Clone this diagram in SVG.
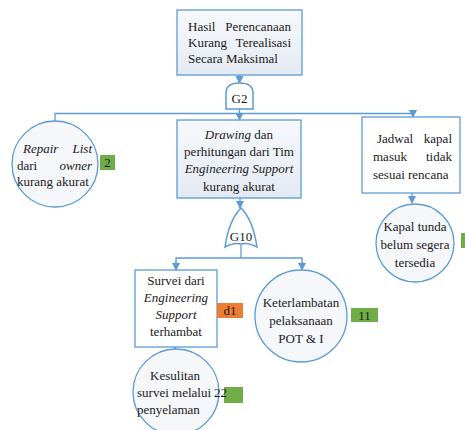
<svg xmlns="http://www.w3.org/2000/svg" width="465" height="430" viewBox="0 0 465 430">
<defs>
<linearGradient id="bg" x1="0" y1="0" x2="0" y2="1">
<stop offset="0" stop-color="#f7f9fc"/>
<stop offset="1" stop-color="#e4eaf3"/>
</linearGradient>
<marker id="ar" viewBox="0 0 8 8" refX="7" refY="4" markerWidth="8" markerHeight="8" markerUnits="userSpaceOnUse" orient="auto">
<path d="M0,0 L8,4 L0,8 Z" fill="#5b9bd5"/>
</marker>
<style>
.ln{fill:none;stroke:#5b9bd5;stroke-width:1.3}
.bx{fill:url(#bg);stroke:#5b9bd5;stroke-width:1.3}
.wb{fill:#ffffff;stroke:#5b9bd5;stroke-width:1.3}
.ci{fill:#f5f7fb;stroke:#5b9bd5;stroke-width:1.3}
.gt{fill:#ffffff;stroke:#5b9bd5;stroke-width:1.5}
text{font-size:13px;fill:#1a1a1a}
.c{text-anchor:middle}
.e{text-anchor:end}
.i{font-style:italic}
.g{fill:#70ad47}
.o{fill:#ed7d31}
</style>
</defs>
<rect width="465" height="430" fill="#ffffff"/>
<g id="connectors">
<line class="ln" x1="239.5" y1="75" x2="239.5" y2="83" marker-end="url(#ar)"/>
<line class="ln" x1="239.5" y1="109" x2="239.5" y2="120" marker-end="url(#ar)"/>
<polyline class="ln" points="55,121 55,113.5 413,113.5 413,117" marker-end="url(#ar)"/>
<line class="ln" x1="240" y1="198" x2="240" y2="208" marker-end="url(#ar)"/>
<line class="ln" x1="241" y1="245" x2="241" y2="258"/>
<polyline class="ln" points="176,270 176,258 302,258 302,269"/>
<line class="ln" x1="176" y1="262" x2="176" y2="270" marker-end="url(#ar)"/>
<line class="ln" x1="302" y1="262" x2="302" y2="270" marker-end="url(#ar)"/>
<line class="ln" x1="412" y1="193" x2="412" y2="203" marker-end="url(#ar)"/>
<line class="ln" x1="175" y1="347" x2="175" y2="349" marker-end="url(#ar)"/>
</g>
<g font-family="Liberation Serif, Times New Roman, serif">
<g id="top">
<rect class="bx" x="177" y="10" width="125" height="65"/>
<text x="188" y="31">Hasil <tspan class="e" x="291">Perencanaan</tspan></text>
<text x="188" y="47">Kurang <tspan class="e" x="291">Terealisasi</tspan></text>
<text x="188" y="63">Secara Maksimal</text>
</g>
<g id="G2">
<path class="gt" d="M226,109 V93 Q226,83 239.5,83 Q253,83 253,93 V109 Z"/>
<text class="c" x="239.5" y="103">G2</text>
</g>
<g id="repair">
<circle class="ci" cx="55" cy="164" r="43"/>
<text x="23" y="153"><tspan class="i">Repair</tspan> <tspan class="i e" x="92">List</tspan></text>
<text x="17" y="170">dari <tspan class="i e" x="92">owner</tspan></text>
<text x="17" y="186">kurang akurat</text>
<rect class="g" x="100" y="155" width="15" height="15"/>
<text class="c" x="107.5" y="167">2</text>
</g>
<g id="drawing">
<rect class="bx" x="177" y="120" width="124" height="78"/>
<text class="c" x="239" y="139"><tspan class="i">Drawing</tspan> dan</text>
<text class="c" x="239" y="156">perhitungan dari Tim</text>
<text class="c i" x="239" y="173">Engineering Support</text>
<text class="c" x="239" y="191">kurang akurat</text>
</g>
<g id="jadwal">
<rect class="wb" x="362" y="117" width="98" height="76"/>
<text x="377" y="143">Jadwal <tspan class="e" x="452">kapal</tspan></text>
<text x="373" y="161">masuk <tspan class="e" x="452">tidak</tspan></text>
<text x="373" y="179">sesuai rencana</text>
</g>
<g id="G10">
<path class="gt" d="M241,208 Q229,220 225,247 Q234,242 241,244 Q248,242 257,247 Q253,220 241,208 Z"/>
<text class="c" x="241" y="241">G10</text>
</g>
<g id="kapal">
<circle class="ci" cx="415" cy="243" r="39"/>
<text class="c" x="415" y="231">Kapal tunda</text>
<text class="c" x="415" y="249">belum segera</text>
<text class="c" x="415" y="267">tersedia</text>
<rect class="g" x="461" y="233" width="6" height="15"/>
</g>
<g id="survei">
<rect class="wb" x="135" y="270" width="82" height="77"/>
<text class="c" x="176" y="285">Survei dari</text>
<text class="c i" x="176" y="302">Engineering</text>
<text class="c i" x="176" y="319">Support</text>
<text class="c" x="176" y="336">terhambat</text>
<rect class="o" x="217" y="303" width="26" height="15"/>
<text class="c" x="230" y="315">d1</text>
</g>
<g id="keterlambatan">
<circle class="ci" cx="301" cy="316" r="46"/>
<text class="c" x="301" y="307">Keterlambatan</text>
<text class="c" x="301" y="325">pelaksanaan</text>
<text class="c" x="301" y="343">POT &amp; I</text>
<rect class="g" x="351" y="308" width="27" height="14"/>
<text class="c" x="364.5" y="320">11</text>
</g>
<g id="kesulitan">
<circle class="ci" cx="176" cy="392" r="43"/>
<text class="c" x="175" y="380">Kesulitan</text>
<text x="137" y="397">survei melalui</text>
<text x="137" y="414">penyelaman</text>
<rect class="g" x="224" y="387" width="19" height="16"/>
<text x="214" y="397">22</text>
</g>
</g>
</svg>
